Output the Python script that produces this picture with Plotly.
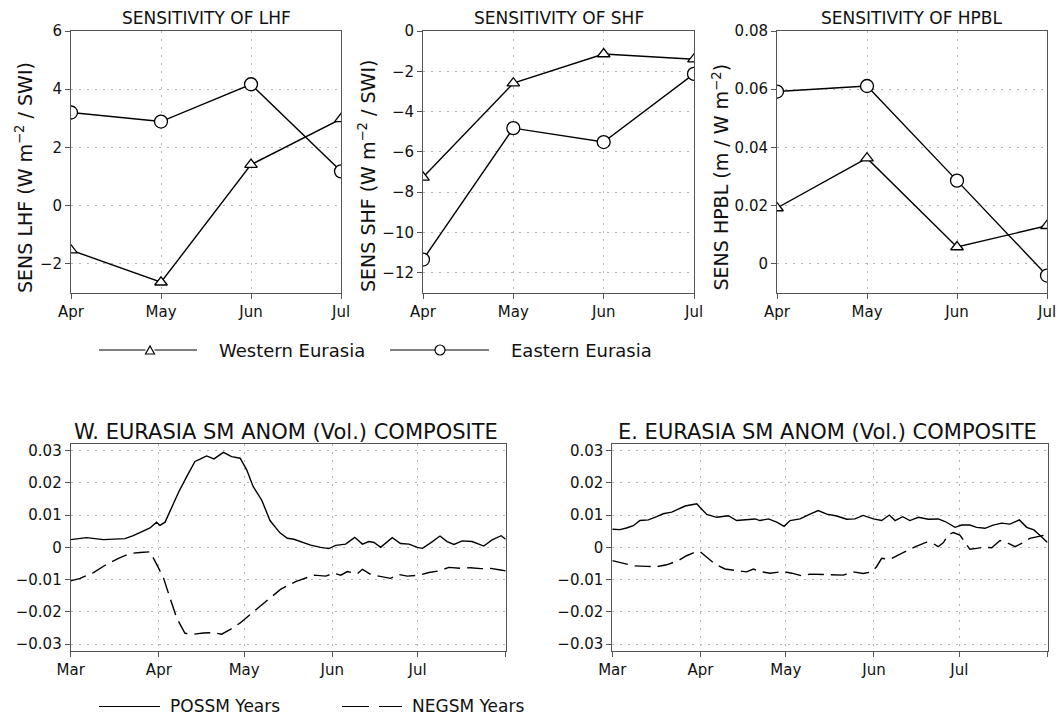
import plotly.graph_objects as go

W, H = 1060, 717
FONT = "DejaVu Sans"

# ---------------- data: top panels ----------------
months_top = ["Apr", "May", "Jun", "Jul"]
lhf_west = [-1.53, -2.63, 1.41, 2.98]
lhf_east = [3.20, 2.89, 4.17, 1.18]
shf_west = [-7.26, -2.59, -1.14, -1.40]
shf_east = [-11.34, -4.82, -5.51, -2.13]
hpbl_west = [0.0192, 0.0363, 0.0058, 0.0131]
hpbl_east = [0.0592, 0.0611, 0.0286, -0.0040]

# ---------------- data: bottom panels (day offset from Mar 1) ----------------
month_labels = ["Mar", "Apr", "May", "Jun", "Jul"]
month_lengths = [31, 30, 31, 30, 31]

w_pos_day = [0, 5.6, 11.5, 19.1, 22, 25.6, 27.9, 30.2, 31.4, 33.2, 35.5, 37.9, 40.8, 43.7, 45.5,
             47.8, 50.4, 53.7, 56.6, 59.6, 61.9, 64.2, 67.2, 70.1, 73.6, 76.2, 78.5, 80.9, 84.4,
             87.9, 90.8, 93.2, 96.7, 99.9, 102.6, 104.9, 106.7, 109.0, 113.1, 116.0, 119.0,
             121.9, 123.7, 126.6, 129.9, 132.4, 134.8, 137.7, 141.2, 145.3, 148.2, 151.4, 153]
w_pos_val = [0.0024, 0.0030, 0.0024, 0.0027, 0.0036, 0.0052, 0.0060, 0.0078, 0.0068, 0.0078,
             0.0125, 0.0170, 0.0219, 0.0266, 0.0273, 0.0283, 0.0274, 0.0294, 0.0281, 0.0276,
             0.0240, 0.0188, 0.0146, 0.0083, 0.0045, 0.0028, 0.0025, 0.0018, 0.0007, 0.0000,
             -0.0004, 0.0006, 0.0010, 0.0031, 0.0010, 0.0018, 0.0015, 0.0000, 0.0030, 0.0012,
             0.0010, 0.0000, -0.0003, 0.0014, 0.0035, 0.0018, 0.0009, 0.0020, 0.0018, 0.0004,
             0.0023, 0.0036, 0.0025]

w_neg_day = [0, 3.3, 8.0, 12.7, 16.8, 20.9, 24.4, 27.9, 30.2, 32.6, 34.9, 37.3, 40.2, 43.1, 46.7,
             50.2, 53.1, 56.0, 59.6, 63.1, 66.6, 70.1, 73.8, 79.1, 82.6, 85.6, 89.7, 92.6, 95.0,
             97.3, 100.8, 102.6, 105.5, 109.0, 112.5, 115.4, 118.4, 122.5, 126.0, 129.5, 133.0,
             137.1, 140.6, 144.2, 147.7, 151.2, 153]
w_neg_val = [-0.0104, -0.0096, -0.0078, -0.0052, -0.0034, -0.0019, -0.0016, -0.0014, -0.0052,
             -0.0094, -0.0156, -0.0219, -0.0266, -0.0269, -0.0265, -0.0264, -0.0269, -0.0255,
             -0.0234, -0.0208, -0.0182, -0.0156, -0.0130, -0.0106, -0.0094, -0.0086, -0.0089,
             -0.0080, -0.0086, -0.0075, -0.0082, -0.0068, -0.0084, -0.0091, -0.0096, -0.0084,
             -0.0089, -0.0086, -0.0078, -0.0073, -0.0062, -0.0065, -0.0063, -0.0066, -0.0065,
             -0.0070, -0.0073]

e_pos_day = [0, 2.7, 5.0, 7.4, 9.7, 12.7, 15.6, 17.9, 20.9, 23.2, 25.6, 27.9, 29.7, 30.8, 33.2,
             36.7, 40.8, 43.7, 47.2, 50.2, 51.9, 54.9, 57.8, 60.4, 62.5, 66.0, 69.5, 72.4, 75.4,
             78.9, 82.4, 85.3, 88.2, 91.8, 94.7, 97.4, 99.4, 102.1, 104.6, 107.6, 111.1, 114.6,
             117.0, 120.5, 122.8, 125.7, 128.1, 131.0, 133.9, 136.9, 139.8, 143.1, 145.7, 148.2,
             150.5, 153]
e_pos_val = [0.0056, 0.0055, 0.0060, 0.0067, 0.0083, 0.0085, 0.0095, 0.0104, 0.0109, 0.0119,
             0.0128, 0.0132, 0.0135, 0.0124, 0.0102, 0.0093, 0.0098, 0.0083, 0.0086, 0.0088,
             0.0083, 0.0088, 0.0078, 0.0065, 0.0083, 0.0088, 0.0103, 0.0114, 0.0103, 0.0097,
             0.0087, 0.0088, 0.0099, 0.0088, 0.0083, 0.0100, 0.0083, 0.0095, 0.0083, 0.0093,
             0.0087, 0.0088, 0.0080, 0.0062, 0.0069, 0.0069, 0.0062, 0.0059, 0.0069, 0.0075,
             0.0072, 0.0085, 0.0062, 0.0054, 0.0036, 0.0015]

e_neg_day = [0, 3.9, 7.4, 12.1, 15.6, 19.1, 23.2, 26.1, 28.5, 30.8, 33.2, 36.1, 39.6, 43.7, 47.2,
             49.6, 51.9, 55.4, 60.1, 63.1, 66.6, 69.5, 73.0, 77.7, 81.2, 84.7, 88.2, 91.2, 92.9,
             94.7, 97.6, 100.5, 103.5, 107.0, 110.5, 112.8, 114.6, 116.4, 118.1, 119.9, 122.2,
             123.6, 125.7, 128.1, 130.4, 133.4, 136.3, 138.6, 141.6, 143.9, 146.8, 150.0, 153]
e_neg_val = [-0.0041, -0.0050, -0.0057, -0.0059, -0.0060, -0.0054, -0.0041, -0.0026, -0.0017,
             -0.0013, -0.0031, -0.0052, -0.0067, -0.0073, -0.0076, -0.0067, -0.0075, -0.0080,
             -0.0075, -0.0080, -0.0088, -0.0083, -0.0084, -0.0086, -0.0086, -0.0076, -0.0081,
             -0.0076, -0.0060, -0.0034, -0.0037, -0.0024, -0.0010, 0.0004, 0.0016, 0.0012,
             0.0002, 0.0015, 0.0038, 0.0046, 0.0038, 0.0021, -0.0006, -0.0003, 0.0000, -0.0001,
             0.0021, 0.0015, 0.0002, 0.0012, 0.0028, 0.0034, 0.0040]

month_starts = [sum(month_lengths[:i]) for i in range(len(month_lengths) + 1)]


# ---------------- helpers ----------------
def fx(p):
    return p / W


def fy(p):
    return 1 - p / H


top_x = [(71, 341), (423, 694), (777, 1047)]
top_y = (31, 293)
bot_x = [(70.7, 505.7), (612.3, 1047.5)]
bot_y = (444, 650.7)

axis_common = dict(
    showline=True, linecolor="#555", linewidth=1, mirror=True,
    ticks="outside", ticklen=5, tickcolor="#555", tickwidth=1,
    showgrid=True, gridcolor="#b5b5b5", griddash="2px,6px", gridwidth=1,
    zeroline=False, automargin=False, tickfont=dict(family=FONT, size=15, color="#111"),
)

fig = go.Figure()

line_style = dict(color="black", width=1.4)
tri = dict(symbol="triangle-up", size=11, color="white", line=dict(color="black", width=1.3))
cir = dict(symbol="circle", size=13, color="white", line=dict(color="black", width=1.3))

top_sets = [(lhf_west, lhf_east), (shf_west, shf_east), (hpbl_west, hpbl_east)]
for i, (west, east) in enumerate(top_sets):
    n = i + 1
    xa = "x" if n == 1 else f"x{n}"
    ya = "y" if n == 1 else f"y{n}"
    fig.add_trace(go.Scatter(x=months_top, y=west, mode="lines+markers", line=line_style,
                             marker=tri, xaxis=xa, yaxis=ya, showlegend=False))
    fig.add_trace(go.Scatter(x=months_top, y=east, mode="lines+markers", line=line_style,
                             marker=cir, xaxis=xa, yaxis=ya, showlegend=False))

dash_style = dict(color="black", width=1.4, dash="16px,7px")
for j, (pd_, pv, nd, nv) in enumerate([(w_pos_day, w_pos_val, w_neg_day, w_neg_val),
                                       (e_pos_day, e_pos_val, e_neg_day, e_neg_val)]):
    n = j + 4
    fig.add_trace(go.Scatter(x=pd_, y=pv, mode="lines", line=line_style,
                             xaxis=f"x{n}", yaxis=f"y{n}", showlegend=False))
    fig.add_trace(go.Scatter(x=nd, y=nv, mode="lines", line=dash_style,
                             xaxis=f"x{n}", yaxis=f"y{n}", showlegend=False))

layout = dict(width=W, height=H, autosize=False,
              margin=dict(l=0, r=0, t=0, b=0, pad=0, autoexpand=False),
              paper_bgcolor="white", plot_bgcolor="white", showlegend=False,
              font=dict(family=FONT, color="#111"))

top_ranges = [([-3, 6], 2), ([-13, 0], 2), ([-0.01, 0.08], 0.02)]
for i in range(3):
    n = i + 1
    sx = "" if n == 1 else str(n)
    layout[f"xaxis{sx}"] = dict(axis_common, type="category", range=[0, 3],
                                domain=[fx(top_x[i][0]), fx(top_x[i][1])],
                                anchor=f"y{sx}")
    layout[f"yaxis{sx}"] = dict(axis_common, range=top_ranges[i][0], tick0=0,
                                dtick=top_ranges[i][1],
                                domain=[fy(top_y[1]), fy(top_y[0])], anchor=f"x{sx}")

for j in range(2):
    n = j + 4
    layout[f"xaxis{n}"] = dict(axis_common, range=[0, month_starts[-1]],
                               tickmode="array", tickvals=month_starts,
                               ticktext=month_labels + [" "],
                               domain=[fx(bot_x[j][0]), fx(bot_x[j][1])], anchor=f"y{n}")
    layout[f"yaxis{n}"] = dict(axis_common, range=[-0.032, 0.032], tick0=0, dtick=0.01,
                               domain=[fy(bot_y[1]), fy(bot_y[0])], anchor=f"x{n}")

fig.update_layout(**layout)

# ---------------- titles ----------------
ann = []
top_titles = ["SENSITIVITY OF LHF", "SENSITIVITY OF SHF", "SENSITIVITY OF HPBL"]
for i, t in enumerate(top_titles):
    ann.append(dict(text=t, x=fx((top_x[i][0] + top_x[i][1]) / 2), y=fy(18.5),
                    xref="paper", yref="paper", xanchor="center", yanchor="middle",
                    showarrow=False, font=dict(family=FONT, size=17, color="#111")))

ytitles = ["SENS LHF (W m<sup>\u22122</sup> / SWI)", "SENS SHF (W m<sup>\u22122</sup> / SWI)",
           "SENS HPBL (m / W m<sup>\u22122</sup>)"]
ytitle_pos = [(24, 178), (367, 176), (721, 177.5)]
for t, (px_, py_) in zip(ytitles, ytitle_pos):
    ann.append(dict(text=t, x=fx(px_), y=fy(py_), xref="paper", yref="paper",
                    xanchor="center", yanchor="middle", textangle=-90, showarrow=False,
                    font=dict(family=FONT, size=19, color="#111")))

bot_titles = ["W. EURASIA SM ANOM (Vol.) COMPOSITE", "E. EURASIA SM ANOM (Vol.) COMPOSITE"]
for j, t in enumerate(bot_titles):
    ann.append(dict(text=t, x=fx((bot_x[j][0] + bot_x[j][1]) / 2 - 2), y=fy(431.5),
                    xref="paper", yref="paper", xanchor="center", yanchor="middle",
                    showarrow=False, font=dict(family=FONT, size=21, color="#111")))

# ---------------- legends ----------------
legend_font = dict(family=FONT, size=18, color="#111")
legend_font_b = dict(family=FONT, size=17, color="#111")
ann.append(dict(text="Western Eurasia", x=fx(217), y=fy(350), xref="paper", yref="paper",
                xanchor="left", yanchor="middle", showarrow=False, font=legend_font))
ann.append(dict(text="Eastern Eurasia", x=fx(509), y=fy(350), xref="paper", yref="paper",
                xanchor="left", yanchor="middle", showarrow=False, font=legend_font))
ann.append(dict(text="POSSM Years", x=fx(169), y=0, xref="paper", yref="paper",
                xanchor="left", yanchor="bottom", borderpad=0, showarrow=False,
                font=legend_font_b))
ann.append(dict(text="NEGSM Years", x=fx(411), y=0, xref="paper", yref="paper",
                xanchor="left", yanchor="bottom", borderpad=0, showarrow=False,
                font=legend_font_b))

shapes = []
lk = dict(color="black", width=1.2)
for (a, b) in [(99, 145.5), (154.5, 197), (390, 435), (445, 489)]:
    shapes.append(dict(type="line", xref="paper", yref="paper", x0=fx(a), x1=fx(b),
                       y0=fy(350), y1=fy(350), line=lk))
shapes.append(dict(type="path", xref="paper", yref="paper",
                   path=f"M {fx(145.5)},{fy(354)} L {fx(154.5)},{fy(354)} L {fx(150)},{fy(346)} Z",
                   line=lk, fillcolor="white"))
shapes.append(dict(type="circle", xref="paper", yref="paper", x0=fx(435), x1=fx(445),
                   y0=fy(355), y1=fy(345), line=lk, fillcolor="white"))
shapes.append(dict(type="line", xref="paper", yref="paper", x0=fx(99), x1=fx(160),
                   y0=fy(706.5), y1=fy(706.5), line=lk))
shapes.append(dict(type="line", xref="paper", yref="paper", x0=fx(342), x1=fx(402),
                   y0=fy(706.5), y1=fy(706.5),
                   line=dict(color="black", width=1.2, dash="27px,10px")))

fig.update_layout(annotations=ann, shapes=shapes)

fig.write_html("out.html", config={"displayModeBar": False},
               post_script="document.body.style.margin='0';")
